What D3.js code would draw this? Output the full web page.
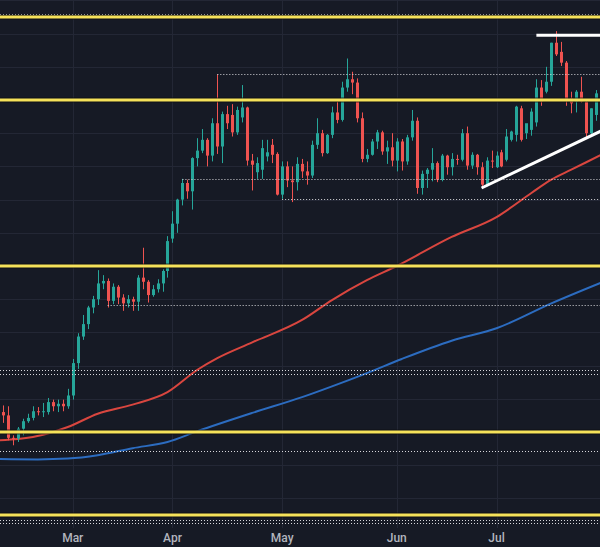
<!DOCTYPE html>
<html><head><meta charset="utf-8">
<script src="https://cdn.jsdelivr.net/npm/d3@7"></script>
<style>
html,body{margin:0;padding:0;background:#161a25;overflow:hidden;}
svg{display:block;}
</style></head><body>
<svg id="c" width="600" height="547"></svg>
<script>
// XAU/USD daily, 2024
const dates = ["02-09","02-12","02-13","02-14","02-15","02-16","02-19","02-20","02-21","02-22","02-23","02-26","02-27","02-28","02-29",
"03-01","03-04","03-05","03-06","03-07","03-08","03-11","03-12","03-13","03-14","03-15","03-18","03-19","03-20","03-21","03-22","03-25","03-26","03-27","03-28",
"04-01","04-02","04-03","04-04","04-05","04-08","04-09","04-10","04-11","04-12","04-15","04-16","04-17","04-18","04-19","04-22","04-23","04-24","04-25","04-26","04-29","04-30",
"05-01","05-02","05-03","05-06","05-07","05-08","05-09","05-10","05-13","05-14","05-15","05-16","05-17","05-20","05-21","05-22","05-23","05-24","05-27","05-28","05-29","05-30","05-31",
"06-03","06-04","06-05","06-06","06-07","06-10","06-11","06-12","06-13","06-14","06-17","06-18","06-19","06-20","06-21","06-24","06-25","06-26","06-27","06-28",
"07-01","07-02","07-03","07-04","07-05","07-08","07-09","07-10","07-11","07-12","07-15","07-16","07-17","07-18","07-19","07-22","07-23","07-24","07-25","07-26","07-29","07-30"];
const open  = [2034,2024,2020,1993,1992,2004,2013,2017,2025,2024,2024,2036,2031,2034,2031,
2044,2083,2115,2130,2150,2160,2179,2182,2158,2175,2162,2155,2160,2157,2186,2181,2165,2172,2179,2194,
2233,2251,2280,2300,2290,2330,2339,2352,2333,2372,2344,2383,2382,2361,2379,2391,2327,2313,2316,2332,2346,2335,
2286,2320,2303,2301,2323,2314,2309,2346,2360,2336,2358,2385,2376,2415,2425,2421,2378,2329,2334,2350,2361,2338,2343,
2327,2350,2326,2355,2375,2294,2311,2316,2324,2304,2333,2319,2329,2328,2360,2321,2334,2319,2298,2327,
2319,2337,2328,2352,2358,2390,2360,2364,2373,2415,2410,2422,2469,2458,2445,2402,2398,2410,2398,2360,2382,2387];
const high  = [2036,2032,2031,1996,2006,2016,2022,2031,2030,2035,2041,2039,2039,2039,2052,
2088,2119,2141,2152,2164,2195,2189,2185,2179,2177,2166,2165,2163,2189,2222,2183,2177,2184,2196,2236,
2266,2281,2305,2304,2331,2354,2365,2354,2378,2431,2386,2393,2395,2392,2418,2392,2335,2331,2352,2352,2353,2337,
2326,2326,2320,2331,2329,2326,2351,2378,2364,2359,2392,2398,2422,2450,2434,2426,2385,2341,2353,2364,2363,2351,2360,
2354,2353,2358,2388,2379,2315,2318,2342,2326,2335,2334,2336,2334,2365,2368,2337,2335,2325,2331,2339,
2338,2340,2365,2363,2393,2393,2370,2390,2425,2424,2440,2469,2483,2470,2447,2410,2412,2428,2401,2390,2412,2412];
const low   = [2021,2011,1990,1984,1988,1996,2011,2014,2020,2018,2021,2025,2024,2025,2028,
2039,2076,2111,2124,2143,2153,2172,2150,2154,2154,2146,2150,2146,2146,2172,2156,2163,2168,2169,2186,
2228,2240,2273,2281,2268,2320,2336,2320,2326,2335,2324,2365,2356,2358,2373,2321,2291,2305,2305,2326,2324,2285,
2281,2295,2277,2291,2306,2298,2306,2341,2332,2335,2354,2372,2374,2410,2407,2373,2325,2325,2333,2341,2334,2323,2320,
2314,2315,2322,2351,2287,2286,2294,2302,2301,2302,2310,2309,2322,2326,2316,2317,2310,2294,2296,2318,
2318,2319,2326,2350,2350,2350,2353,2357,2368,2393,2408,2417,2453,2441,2393,2384,2385,2397,2353,2358,2375,2380];
const close = [2024,2020,1993,1992,2004,2013,2017,2025,2024,2025,2036,2031,2034,2031,2044,
2083,2115,2130,2150,2160,2179,2182,2158,2175,2162,2155,2160,2157,2186,2181,2165,2172,2179,2194,2230,
2251,2280,2300,2290,2330,2339,2352,2333,2372,2344,2383,2372,2361,2388,2391,2327,2322,2324,2342,2337,2334,2286,
2320,2303,2301,2323,2314,2309,2346,2360,2336,2358,2385,2376,2415,2425,2421,2378,2329,2334,2350,2361,2338,2343,2327,
2350,2326,2355,2375,2294,2311,2316,2324,2304,2333,2319,2329,2328,2360,2321,2334,2319,2298,2327,2326,
2333,2320,2356,2362,2392,2352,2372,2386,2415,2398,2422,2469,2455,2445,2400,2396,2410,2398,2360,2390,2408,2410];

// moving averages (sampled from the chart)
const redDates  = ["02-09","02-15","02-20","02-29","03-08","03-19","03-28","04-08","04-12","04-23","05-07","05-15","05-24","06-03","06-18","07-01","07-10","07-16","07-22","07-30"];
const redValues = [1990,1991.5,1994,2006,2022,2033,2048,2075,2089,2108,2135,2159,2183,2200,2235,2259,2288,2304,2316,2334];
const blueDates  = ["02-09","02-21","02-29","03-08","03-19","03-28","04-08","04-23","05-07","05-15","05-24","06-04","06-18","07-01","07-16","07-30"];
const blueValues = [1967.5,1967,1968,1972,1980.5,1988,2001,2023,2042,2055,2071,2088,2110,2125,2155,2180];

// drawn levels
const yellowLevels = [2500,2400,2200,2000,1900];
const dottedLevels = [2503.5,2431,2305,2281,2153,2075,2070,1977,1894,1890];
const dottedStarts = ["02-09","04-12","04-03","05-01","03-12","02-09","02-09","02-09","02-09","02-09"];
const whiteLines = [
  [["07-11",2478],["07-30",2478]],
  [["06-26",2294],["07-30",2362.7]]
];
const gridPrices = [1920,1960,2000,2040,2080,2120,2160,2200,2240,2280,2320,2360,2400,2440,2480,2520];
const monthTicks  = ["03-01","04-01","05-01","06-03","07-01"];
const monthLabels = ["Mar","Apr","May","Jun","Jul"];

const W = 600, H = 547, plotBottom = 528;
const svg = d3.select("#c");
svg.append("rect").attr("width",W).attr("height",H).attr("fill","#161a25");

const step = 4.985;
const x = d3.scalePoint().domain(dates).range([-2, -2 + (dates.length-1)*step]);
const y = d3.scaleLinear().domain([1900,2500]).range([515,17]);

const plot = svg.append("g");
// grid
plot.append("g").selectAll("line").data(gridPrices).join("line")
  .attr("x1",0).attr("x2",W)
  .attr("y1",d=>Math.round(y(d))+0.5).attr("y2",d=>Math.round(y(d))+0.5)
  .attr("stroke","#232735").attr("stroke-width",1);
plot.append("g").selectAll("line").data(monthTicks).join("line")
  .attr("x1",d=>Math.round(x(d))+0.5).attr("x2",d=>Math.round(x(d))+0.5)
  .attr("y1",0).attr("y2",plotBottom)
  .attr("stroke","#232735").attr("stroke-width",1);

// moving averages
const line = d3.line().x(d=>x(d[0])).y(d=>y(d[1])).curve(d3.curveMonotoneX);
plot.append("path").datum(blueDates.map((d,i)=>[d,blueValues[i]]))
  .attr("d",line).attr("fill","none").attr("stroke","#2c6cc0").attr("stroke-width",2);
plot.append("path").datum(redDates.map((d,i)=>[d,redValues[i]]))
  .attr("d",line).attr("fill","none").attr("stroke","#d9463f").attr("stroke-width",2);

// candles
const up = "#26a69a", dn = "#ef5350";
const candles = dates.map((d,i)=>({d,o:open[i],h:high[i],l:low[i],c:close[i]}));
const cg = plot.append("g").selectAll("g").data(candles).join("g");
cg.append("line")
  .attr("x1",d=>Math.round(x(d.d))+0.5).attr("x2",d=>Math.round(x(d.d))+0.5)
  .attr("y1",d=>y(d.h)).attr("y2",d=>y(d.l))
  .attr("stroke",d=>d.c>=d.o?up:dn).attr("stroke-width",1);
cg.append("rect")
  .attr("x",d=>Math.round(x(d.d))-1).attr("width",3)
  .attr("y",d=>y(Math.max(d.o,d.c)))
  .attr("height",d=>Math.max(1,Math.abs(y(d.o)-y(d.c))))
  .attr("fill",d=>d.c>=d.o?up:dn);

// dotted levels
plot.append("g").selectAll("line").data(dottedLevels).join("line")
  .attr("x1",(d,i)=>dottedStarts[i]==="02-09"?0:x(dottedStarts[i])).attr("x2",W)
  .attr("y1",d=>Math.round(y(d))+0.5).attr("y2",d=>Math.round(y(d))+0.5)
  .attr("stroke","#d8d8dc").attr("stroke-width",1).attr("stroke-dasharray","1,2");

// yellow levels
const yl = plot.append("g");
yl.selectAll("line.sh").data(yellowLevels).join("line").attr("class","sh")
  .attr("x1",0).attr("x2",W).attr("y1",d=>y(d)).attr("y2",d=>y(d))
  .attr("stroke","#0c0d10").attr("stroke-width",5).attr("opacity",0.7);
yl.selectAll("line.lv").data(yellowLevels).join("line").attr("class","lv")
  .attr("x1",0).attr("x2",W).attr("y1",d=>y(d)).attr("y2",d=>y(d))
  .attr("stroke","#f5e25a").attr("stroke-width",3);

// white trend lines
plot.append("g").selectAll("line").data(whiteLines).join("line")
  .attr("x1",d=>x(d[0][0])).attr("y1",d=>y(d[0][1]))
  .attr("x2",d=>x(d[1][0])).attr("y2",d=>y(d[1][1]))
  .attr("stroke","#ffffff").attr("stroke-width",3);

// month labels
svg.append("g").selectAll("text").data(monthTicks).join("text")
  .attr("x",d=>x(d)).attr("y",542)
  .attr("text-anchor","middle")
  .attr("font-family","Roboto, 'DejaVu Sans', sans-serif")
  .attr("font-size",12).attr("font-weight",500)
  .attr("fill","#b2b5be")
  .text((d,i)=>monthLabels[i]);
</script>
</body></html>
